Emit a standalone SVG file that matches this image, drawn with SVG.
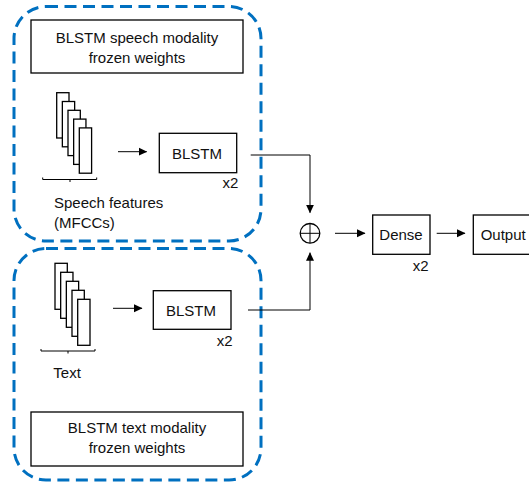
<svg xmlns="http://www.w3.org/2000/svg" width="529" height="485" viewBox="0 0 529 485">
<defs>
<marker id="ah" markerWidth="9" markerHeight="9" refX="8" refY="4.5" orient="auto" markerUnits="userSpaceOnUse">
<path d="M0,0.5 L8.5,4.5 L0,8.5 Z" fill="#000"/>
</marker>
<style>
.grp{fill:none;stroke:#0070C0;stroke-width:3;stroke-dasharray:12 6.5}
.box{fill:#fff;stroke:#000;stroke-width:1.3}
.feat{fill:#fff;stroke:#000;stroke-width:1.3}
.t{font-family:"Liberation Sans",Arial,sans-serif;font-size:15px;fill:#111}
.m{text-anchor:middle}
.ln{fill:none;stroke:#000;stroke-width:1}
</style>
</defs>
<rect fill="#fff" width="529" height="485"/>

<g id="speech-group">
<rect class="grp" x="14" y="6.5" width="247" height="234.5" rx="32"/>
</g>
<g id="text-group">
<rect class="grp" x="14" y="248.5" width="247" height="231.5" rx="32"/>
</g>

<g id="speech-title">
<rect class="box" x="31" y="20" width="212" height="53"/>
<text class="t m" x="137" y="42.5">BLSTM speech modality</text>
<text class="t m" x="137" y="63">frozen weights</text>
</g>

<g id="speech-features">
<rect class="feat" x="56.7" y="92.7" width="12.3" height="45.3"/>
<rect class="feat" x="62.35" y="101.5" width="12.3" height="45.3"/>
<rect class="feat" x="68" y="110.3" width="12.3" height="45.3"/>
<rect class="feat" x="73.65" y="119.1" width="12.3" height="45.3"/>
<rect class="feat" x="79.3" y="127.9" width="12.3" height="45.3"/>
<path class="ln" d="M42.7,177.5 V179.5 H96.7 V177.5 M70,179.5 V182"/>
<text class="t" x="54" y="208">Speech features</text>
<text class="t" x="54" y="227.5">(MFCCs)</text>
</g>

<g id="speech-blstm">
<rect class="box" x="159.3" y="133.3" width="77.4" height="39.4"/>
<text class="t m" x="197" y="159.3">BLSTM</text>
<text class="t" x="222.5" y="188.3">x2</text>
</g>

<g id="text-features">
<rect class="feat" x="55" y="263.3" width="12.3" height="46"/>
<rect class="feat" x="60.67" y="272.3" width="12.3" height="46"/>
<rect class="feat" x="66.34" y="281.3" width="12.3" height="46"/>
<rect class="feat" x="72" y="290.3" width="12.3" height="46"/>
<rect class="feat" x="77.7" y="299.3" width="12.3" height="46"/>
<path class="ln" d="M41,349 V351 H95 V349 M68,351 V353.5"/>
<text class="t" x="53.3" y="378.3">Text</text>
</g>

<g id="text-blstm">
<rect class="box" x="153.3" y="290.7" width="77.7" height="38.6"/>
<text class="t m" x="191" y="316">BLSTM</text>
<text class="t" x="216.7" y="346">x2</text>
</g>

<g id="text-title">
<rect class="box" x="31" y="412" width="212" height="54"/>
<text class="t m" x="137" y="433.3">BLSTM text modality</text>
<text class="t m" x="137" y="453.3">frozen weights</text>
</g>

<g id="sum">
<circle cx="310" cy="233.3" r="9.8" fill="#fff" stroke="#000" stroke-width="1.3"/>
<path class="ln" d="M300.2,233.3 H319.8 M310,223.5 V243.1" stroke-width="1.3"/>
</g>

<g id="dense">
<rect class="box" x="372.7" y="215" width="57.3" height="39.3"/>
<text class="t m" x="401" y="240">Dense</text>
<text class="t" x="412.7" y="270.7">x2</text>
</g>

<g id="output">
<rect class="box" x="473.3" y="215" width="70" height="39.3"/>
<text class="t" x="480.7" y="240">Output</text>
</g>

<g id="connectors">
<line class="ln" x1="118" y1="151.7" x2="146.7" y2="151.7" marker-end="url(#ah)"/>
<line class="ln" x1="113" y1="308.3" x2="142" y2="308.3" marker-end="url(#ah)"/>
<path class="ln" d="M250.7,155 H310 V212.7" marker-end="url(#ah)"/>
<path class="ln" d="M248,310 H310 V252.7" marker-end="url(#ah)"/>
<line class="ln" x1="335" y1="233.3" x2="365" y2="233.3" marker-end="url(#ah)"/>
<line class="ln" x1="436.7" y1="233.3" x2="465" y2="233.3" marker-end="url(#ah)"/>
</g>
</svg>
